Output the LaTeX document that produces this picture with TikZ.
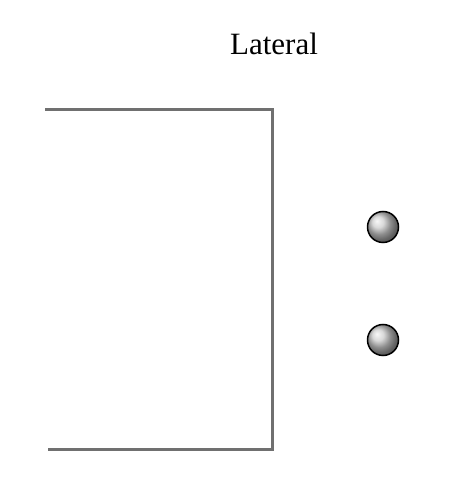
\documentclass[tikz,border=0pt]{standalone}
\usepackage{fontspec}
\setmainfont{Liberation Serif}
\definecolor{framegray}{RGB}{112,112,112}
\tikzset{
  frameline/.style={draw=framegray, line width=3pt},
  bead/.style={circle, minimum size=31pt, inner sep=0pt, shading=ball, ball color=gray!40, draw=black, line width=1.5pt},
  title/.style={font=\fontsize{31}{31}\selectfont, anchor=base, inner sep=0pt}
}
\begin{document}
\begin{tikzpicture}[x=1pt,y=1pt]
\useasboundingbox (0,0) rectangle (458,498);
\node[title] (t) at (274,443) {Lateral};
\coordinate (tl) at (45,388.5);
\coordinate (tr) at (272,388.5);
\coordinate (br) at (272,48.5);
\coordinate (bl) at (48,48.5);
\draw[frameline] (tl) -- (tr) -- (br) -- (bl);
\node[bead] (b1) at (383,271) {};
\node[bead] (b2) at (383,158) {};
\end{tikzpicture}
\end{document}
